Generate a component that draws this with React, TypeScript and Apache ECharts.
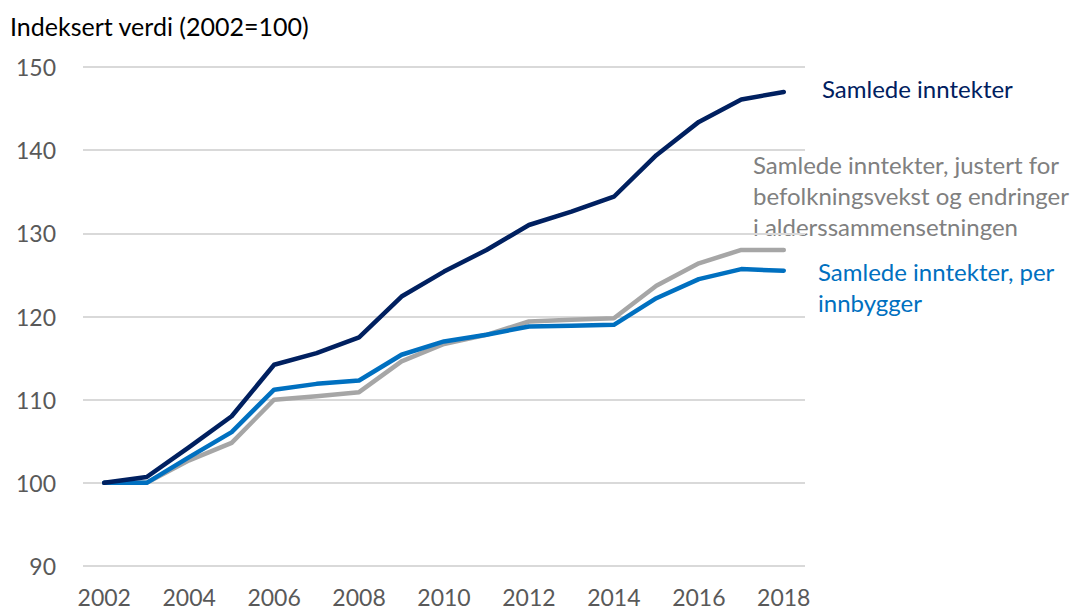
import React, { useEffect, useRef } from "react";
import * as echarts from "echarts";

const years = ["2002","2003","2004","2005","2006","2007","2008","2009","2010","2011","2012","2013","2014","2015","2016","2017","2018"];
const samlede = [100, 100.7, 104.3, 108.0, 114.2, 115.6, 117.5, 122.4, 125.4, 128.0, 131.0, 132.6, 134.4, 139.4, 143.4, 146.1, 147.0];
const justert = [100, 100, 102.7, 104.8, 110.0, 110.4, 110.9, 114.6, 116.7, 117.8, 119.4, 119.6, 119.8, 123.7, 126.4, 128.0, 128.0];
const perInnbygger = [100, 100, 103.1, 106.1, 111.2, 111.9, 112.3, 115.4, 117.0, 117.8, 118.8, 118.9, 119.0, 122.2, 124.5, 125.7, 125.5];

const NAVY = "#002060";
const BLUE = "#0070C0";
const GRAY = "#A6A6A6";
const FONT = "Lato";

export default function App() {
  const ref = useRef<HTMLDivElement>(null);
  useEffect(() => {
    const chart = echarts.init(ref.current!, null, { renderer: "svg" });
    const line = (name: string, data: number[], color: string, z: number) => ({
      name,
      type: "line",
      data,
      symbol: "none",
      z,
      lineStyle: { color, width: 4.5, cap: "round", join: "round" },
    });
    chart.setOption({
      animation: false,
      backgroundColor: "#ffffff",
      grid: { left: 83, right: 268, top: 67, bottom: 46 },
      xAxis: {
        type: "category",
        data: years,
        boundaryGap: true,
        axisLine: { show: false },
        axisTick: { show: false },
        axisLabel: { interval: 1, color: "#595959", fontFamily: FONT, fontSize: 23, margin: 19 },
      },
      yAxis: {
        type: "value",
        min: 90,
        max: 150,
        interval: 10,
        axisLine: { show: false },
        axisTick: { show: false },
        axisLabel: { color: "#595959", fontFamily: FONT, fontSize: 23, margin: 27 },
        splitLine: { lineStyle: { color: "#D9D9D9", width: 2 } },
      },
      series: [
        line("Samlede inntekter, justert for befolkningsvekst og endringer i alderssammensetningen", justert, GRAY, 2),
        line("Samlede inntekter, per innbygger", perInnbygger, BLUE, 3),
        line("Samlede inntekter", samlede, NAVY, 4),
      ],
      graphic: [
        { type: "text", left: 10, top: 13, style: { text: "Indeksert verdi (2002=100)", fill: "#000000", font: `25px ${FONT}` } },
        { type: "text", left: 822, top: 76, style: { text: "Samlede inntekter", fill: NAVY, font: `24px ${FONT}` } },
        { type: "text", left: 753, top: 149, style: { text: "Samlede inntekter, justert for\nbefolkningsvekst og endringer\ni alderssammensetningen", fill: "#808080", font: `24px ${FONT}`, lineHeight: 31 } },
        { type: "text", left: 818, top: 256, style: { text: "Samlede inntekter, per\ninnbygger", fill: BLUE, font: `24px ${FONT}`, lineHeight: 31 } },
      ],
    });
    return () => chart.dispose();
  }, []);
  return <div ref={ref} style={{ position: "fixed", left: 0, top: 0, width: 1073, height: 612 }} />;
}
